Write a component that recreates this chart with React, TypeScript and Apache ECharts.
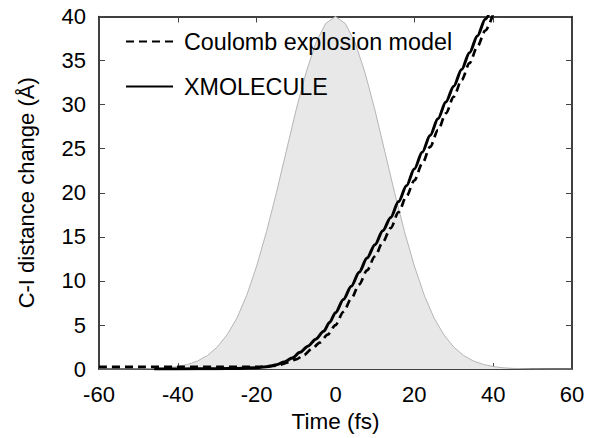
import React, { useEffect, useRef } from "react";
import * as echarts from "echarts";

const xTicks = [-60, -40, -20, 0, 20, 40, 60];
const yTicks = [0, 5, 10, 15, 20, 25, 30, 35, 40];

const pulseTime = [-60, -55, -52.5, -50, -47.5, -45, -42.5, -40, -37.5, -35, -32.5, -30, -27.5, -25, -22.5, -20, -17.5, -15, -12.5, -10, -7.5, -5, -2.5, 0, 2.5, 5, 7.5, 10, 12.5, 15, 17.5, 20, 22.5, 25, 27.5, 30, 32.5, 35, 37.5, 40, 42.5, 45, 47.5, 50, 52.5, 55, 60];
const pulseValue = [0, 0, 0.01, 0.02, 0.04, 0.08, 0.15, 0.29, 0.53, 0.92, 1.54, 2.5, 3.9, 5.8, 8.4, 11.7, 15.6, 20.0, 24.7, 29.4, 33.6, 37.0, 39.2, 40, 39.2, 37.0, 33.6, 29.4, 24.7, 20.0, 15.6, 11.7, 8.4, 5.8, 3.9, 2.5, 1.54, 0.92, 0.53, 0.29, 0.15, 0.08, 0.04, 0.02, 0.01, 0, 0];

const coulombTime = [-60, -50, -40, -30, -20, -16, -14, -12, -10, -8, -6, -4, -2, 0, 2, 4, 6, 8, 10, 12, 14, 16, 18, 20, 22, 24, 26, 28, 30, 32, 34, 36, 38, 40];
const coulombValue = [0.25, 0.25, 0.25, 0.25, 0.25, 0.35, 0.5, 0.75, 1.1, 1.6, 2.3, 3.0, 3.9, 5.0, 6.5, 8.0, 9.6, 11.2, 12.8, 14.4, 16.0, 17.8, 19.6, 21.4, 23.3, 25.2, 27.1, 29.0, 30.9, 32.8, 34.7, 36.6, 38.4, 40.3];

const xmolTime = [-46, -40, -30, -25, -20, -17, -15, -13, -11, -9, -7, -5, -3, -1.5, 0, 2, 4, 6, 8, 10, 12, 14, 16, 18, 20, 22, 24, 26, 28, 30, 32, 34, 36, 38, 40];
const xmolValue = [0.0, 0.02, 0.05, 0.08, 0.15, 0.3, 0.5, 0.8, 1.25, 1.9, 2.6, 3.4, 4.3, 5.3, 6.4, 7.9, 9.4, 11.0, 12.6, 14.1, 15.7, 17.2, 19.0, 20.8, 22.7, 24.6, 26.5, 28.4, 30.3, 32.1, 34.0, 35.9, 37.8, 39.7, 41.6];

const FONT = "'Liberation Sans', Arial, sans-serif";

const pairs = (xs: number[], ys: number[]) => xs.map((x, i) => [x, ys[i]]);

export default function App() {
  const ref = useRef<HTMLDivElement>(null);
  useEffect(() => {
    if (!ref.current) return;
    const chart = echarts.init(ref.current, null, { renderer: "svg" });
    const axisLine = { show: true, onZero: false, lineStyle: { color: "#000", width: 1.5 } };
    const tick = { show: true, inside: true, length: 6, lineStyle: { color: "#444", width: 1 } };
    const xMin = xTicks[0];
    const xMax = xTicks[xTicks.length - 1];
    const yMin = yTicks[0];
    const yMax = yTicks[yTicks.length - 1];
    chart.setOption({
      animation: false,
      backgroundColor: "#fff",
      textStyle: { fontFamily: FONT },
      grid: { left: 99, right: 17, top: 16.5, bottom: 64.5, containLabel: false },
      legend: {
        data: ["Coulomb explosion model", "XMOLECULE"],
        orient: "vertical",
        left: 125,
        top: 30,
        padding: 0,
        itemWidth: 47,
        itemHeight: 22,
        itemGap: 22,
        itemStyle: { opacity: 0 },
        textStyle: { fontSize: 23.3, color: "#000", fontFamily: FONT, padding: [0, 0, 0, 6] },
      },
      xAxis: [
        {
          type: "value", min: xMin, max: xMax, interval: 20, position: "bottom",
          axisLine, axisTick: tick, splitLine: { show: false },
          axisLabel: { fontSize: 22, color: "#000", margin: 14, fontFamily: FONT },
          name: "Time (fs)", nameLocation: "middle", nameGap: 37,
          nameTextStyle: { fontSize: 22.5, color: "#000", fontFamily: FONT },
        },
        {
          type: "value", min: xMin, max: xMax, interval: 20, position: "top",
          axisLine, axisTick: tick, splitLine: { show: false }, axisLabel: { show: false },
        },
      ],
      yAxis: [
        {
          type: "value", min: yMin, max: yMax, interval: 5, position: "left",
          axisLine, axisTick: tick, splitLine: { show: false },
          axisLabel: { fontSize: 22, color: "#000", margin: 13, fontFamily: FONT },
          name: "C-I distance change (Å)", nameLocation: "middle", nameGap: 62,
          nameTextStyle: { fontSize: 22, color: "#000", fontFamily: FONT },
        },
        {
          type: "value", min: yMin, max: yMax, interval: 5, position: "right",
          axisLine, axisTick: tick, splitLine: { show: false }, axisLabel: { show: false },
        },
      ],
      series: [
        {
          name: "pulse", type: "line", data: pairs(pulseTime, pulseValue),
          symbol: "none", smooth: false, silent: true, z: 1,
          lineStyle: { color: "#b5b5b5", width: 1 },
          areaStyle: { color: "#e8e8e8", opacity: 1 },
        },
        {
          name: "Coulomb explosion model", type: "line", data: pairs(coulombTime, coulombValue),
          symbol: "none", smooth: 0.3, smoothMonotone: "x", z: 3,
          itemStyle: { color: "#000" },
          lineStyle: { color: "#000", width: 2.7, type: [8, 5] },
        },
        {
          name: "XMOLECULE", type: "line", data: pairs(xmolTime, xmolValue),
          symbol: "none", smooth: 0.3, smoothMonotone: "x", z: 4,
          itemStyle: { color: "#000" },
          lineStyle: { color: "#000", width: 3 },
        },
      ],
    });
    return () => chart.dispose();
  }, []);
  return (
    <div
      ref={ref}
      style={{ position: "fixed", left: 0, top: 0, width: 589, height: 438, background: "#fff" }}
    />
  );
}
